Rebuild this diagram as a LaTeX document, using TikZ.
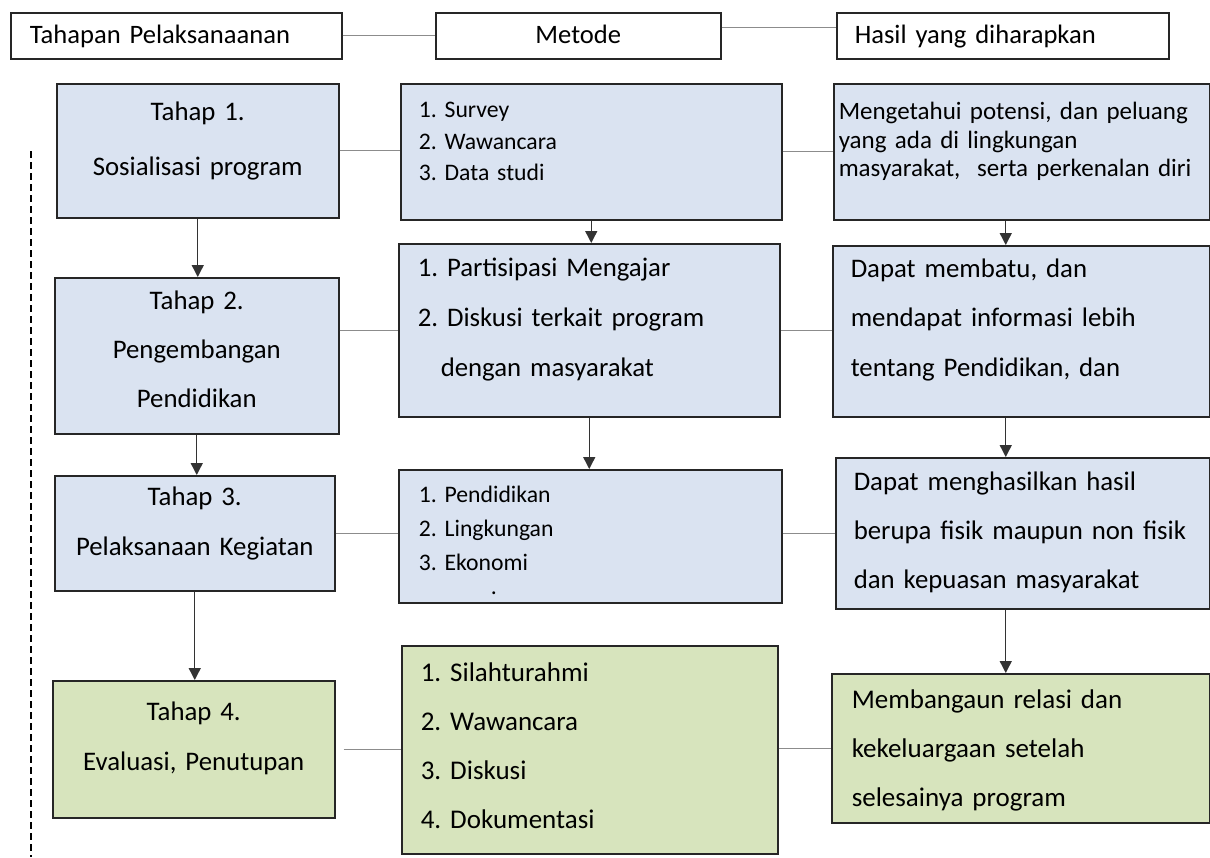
\documentclass[tikz,border=0pt]{standalone}
\usepackage{fontspec}
\setmainfont{Carlito}[WordSpace=0.9]
\usetikzlibrary{arrows.meta}
\definecolor{tahapblue}{HTML}{DAE3F1}
\definecolor{tahapgreen}{HTML}{D7E4BD}
\frenchspacing
\begin{document}
\begin{tikzpicture}[x=0.5pt, y=-0.5pt,
    kotak/.style={draw=black!85, line width=0.75pt, anchor=north west, inner ysep=0pt},
    head/.style={kotak, font=\fontsize{13.3}{16}\selectfont, text height=15.5pt, text depth=7.5pt},
    biru/.style={kotak, fill=tahapblue},
    hijau/.style={kotak, fill=tahapgreen},
    link/.style={draw=black!45, line width=0.6pt},
    flow/.style={draw=black!80, line width=0.7pt, -{Triangle[length=6pt,width=6pt]}},
    pemisah/.style={draw=black, line width=0.6pt, dash pattern=on 3.5pt off 2pt}]
  \useasboundingbox (0,0) rectangle (1210,857);
  % judul kolom
  \node[head, align=left, inner xsep=9.5pt, text width=146.5pt] (hTahapan) at (10,12) {Tahapan Pelaksanaanan};
  \node[head, align=center, inner xsep=5pt, text width=132.5pt] (hMetode) at (435,12) {Metode};
  \node[head, align=left, inner xsep=9pt, text width=148pt] (hHasil) at (836,12) {Hasil yang diharapkan};
  % tahapan
  \node[biru, align=center, inner xsep=5pt, text width=131pt, font=\fontsize{13.4}{27.5}\selectfont,
        text height=18.5pt, text depth=48.5pt] (tahap1) at (56,83) {Tahap 1.\\Sosialisasi program};
  \node[biru, align=center, inner xsep=5pt, text width=132pt, font=\fontsize{13.4}{24.5}\selectfont,
        text height=16pt, text depth=62pt] (tahap2) at (54,277) {Tahap 2.\\Pengembangan\\Pendidikan};
  \node[biru, align=center, inner xsep=5pt, text width=130pt, font=\fontsize{13.4}{25}\selectfont,
        text height=15pt, text depth=42.5pt] (tahap3) at (54,475) {Tahap 3.\\Pelaksanaan Kegiatan};
  \node[hijau, align=center, inner xsep=5pt, text width=131pt, font=\fontsize{13.4}{25}\selectfont,
        text height=20pt, text depth=48.5pt] (tahap4) at (52,680) {Tahap 4.\\Evaluasi, Penutupan};
  % metode
  \node[biru, align=left, inner xsep=9pt, text width=172.5pt, font=\fontsize{11.85}{15.75}\selectfont,
        text height=17pt, text depth=51pt] (metode1) at (400,83) {1. Survey\\2. Wawancara\\3. Data\ studi};
  \node[biru, align=left, inner xsep=9.5pt, text width=171.5pt, font=\fontsize{13.4}{25}\selectfont,
        text height=16.25pt, text depth=70.25pt] (metode2) at (398,243)
        {1. Partisipasi Mengajar\\2. Diskusi terkait program\\\hspace*{11.5pt}dengan masyarakat};
  \node[biru, align=left, inner xsep=10pt, text width=171.5pt, font=\fontsize{11.85}{17}\selectfont,
        text height=16.5pt, text depth=50pt] (metode3) at (398,469)
        {1. Pendidikan\\2. Lingkungan\\3. Ekonomi\\[-5pt]\hspace*{36pt}.};
  \node[hijau, align=left, inner xsep=9.5pt, text width=169pt, font=\fontsize{13.5}{24.5}\selectfont,
        text height=17.75pt, text depth=86.25pt] (metode4) at (401,645)
        {1. Silahturahmi\\2. Wawancara\\3. Diskusi\\4. Dokumentasi};
  % hasil
  \node[biru, align=left, inner xsep=2.5pt, text width=183pt, font=\fontsize{12.5}{14.25}\selectfont,
        text height=18pt, text depth=50pt] (hasil1) at (833,83)
        {Mengetahui\ potensi, dan peluang\\yang ada di lingkungan\\masyarakat,\ \ serta perkenalan diri};
  \node[biru, align=left, inner xsep=9pt, text width=170.5pt, font=\fontsize{13.4}{24.75}\selectfont,
        text height=15.75pt, text depth=69.75pt] (hasil2) at (832,245)
        {Dapat membatu, dan\\mendapat informasi lebih\\tentang Pendidikan, dan};
  \node[biru, align=left, inner xsep=9pt, text width=169pt, font=\fontsize{13.4}{24.5}\selectfont,
        text height=16.25pt, text depth=59.25pt] (hasil3) at (835,457)
        {Dapat menghasilkan hasil\\berupa fisik maupun non fisik\\dan kepuasan masyarakat};
  \node[hijau, align=left, inner xsep=10pt, text width=169pt, font=\fontsize{13.5}{24.5}\selectfont,
        text height=17.25pt, text depth=57.25pt] (hasil4) at (831,673)
        {Membangaun relasi dan\\kekeluargaan setelah\\selesainya program};
  % garis penghubung
  \draw[link] (hTahapan.east) -- (hTahapan.east -| hMetode.west);
  \draw[link] ([yshift=4pt]hMetode.east) -- ([yshift=4pt]hHasil.west);
  \draw[link] (tahap1.east) -- (tahap1.east -| metode1.west);
  \draw[link] (metode1.east) -- (metode1.east -| hasil1.west);
  \draw[link] (metode2.west -| tahap2.east) -- (metode2.west);
  \draw[link] (metode2.east) -- (metode2.east -| hasil2.west);
  \draw[link] (tahap3.east) -- (tahap3.east -| metode3.west);
  \draw[link] (hasil3.west -| metode3.east) -- (hasil3.west);
  \draw[link, shorten <=4pt] (tahap4.east) -- (tahap4.east -| metode4.west);
  \draw[link] (hasil4.west -| metode4.east) -- (hasil4.west);
  % panah
  \draw[flow] (tahap1.south) -- (tahap1.south |- tahap2.north);
  \draw[flow] (tahap2.south) -- (tahap2.south |- tahap3.north);
  \draw[flow] (tahap3.south) -- (tahap3.south |- tahap4.north);
  \draw[flow] (metode1.south) -- (metode1.south |- metode2.north);
  \draw[flow] (metode2.south) -- (metode2.south |- metode3.north);
  \draw[flow] ([xshift=-8pt]hasil1.south) -- ([xshift=-8pt]hasil1.south |- hasil2.north);
  \draw[flow] ([xshift=-7.75pt]hasil2.south) -- ([xshift=-7.75pt]hasil2.south |- hasil3.north);
  \draw[flow] ([xshift=-8.5pt]hasil3.south) -- ([xshift=-8.5pt]hasil3.south |- hasil4.north);
  % garis putus-putus
  \coordinate (pemisahAtas) at (31,151);
  \coordinate (pemisahBawah) at (31,857);
  \draw[pemisah] (pemisahAtas) -- (pemisahBawah);
\end{tikzpicture}
\end{document}
